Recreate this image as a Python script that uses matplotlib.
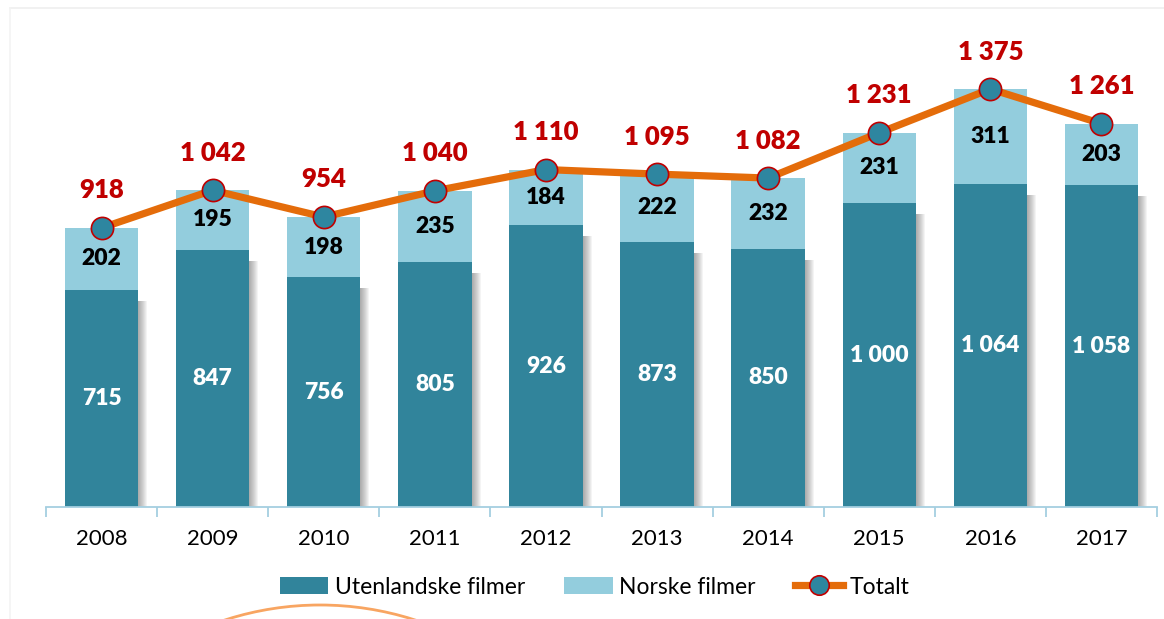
import matplotlib
matplotlib.use("Agg")
import matplotlib.pyplot as plt
from matplotlib.patches import Arc
from matplotlib.lines import Line2D
from matplotlib.patches import Patch
import numpy as np

years = ["2008", "2009", "2010", "2011", "2012", "2013", "2014", "2015", "2016", "2017"]
utenlandske = [715, 847, 756, 805, 926, 873, 850, 1000, 1064, 1058]
norske = [202, 195, 198, 235, 184, 222, 232, 231, 311, 203]
totalt = [918, 1042, 954, 1040, 1110, 1095, 1082, 1231, 1375, 1261]

DARK = "#31849B"
LIGHT = "#93CDDD"
ORANGE = "#E46C0A"
RED = "#C00000"
FONT = "Lato"

def fmt(v):
    return f"{v:,}".replace(",", " ")

W, H = 1164, 619
fig = plt.figure(figsize=(W / 100, H / 100), dpi=100)

bg = fig.add_axes([0, 0, 1, 1], zorder=-5)
bg.set_xlim(0, W)
bg.set_ylim(H, 0)
bg.axis("off")
bg.plot([10, W], [8, 8], color="#EFEFEF", lw=1.2)
bg.plot([10, 10], [8, H], color="#F3F3F3", lw=1.2)
bg.add_patch(Arc((320, 914), 2 * 309, 2 * 309, theta1=235, theta2=305,
                 color="#F79646", lw=2, alpha=0.85))

left, right = 46 / W, 1157 / W
bottom = 112 / H
ymax = 1600
pxu = 0.304
top_px = 507 - ymax * pxu
ax = fig.add_axes([left, bottom, right - left, (507 - top_px) / H])

x = np.arange(len(years))
width = 0.66
ax.set_xlim(-0.5, len(years) - 0.5)
ax.set_ylim(0, ymax)

# soft shadow for dark bars
px = 1 / 111.1
for i in range(1, 10):
    ax.bar(x + i * px, np.array(utenlandske) - 8 / pxu, width, bottom=-3 / pxu,
           color="#444444", alpha=0.06, zorder=1, linewidth=0)

ax.bar(x, utenlandske, width, color=DARK, zorder=2, linewidth=0)
ax.bar(x, norske, width, bottom=utenlandske, color=LIGHT, zorder=2, linewidth=0)

ax.plot(x, totalt, color=ORANGE, lw=5.2, zorder=3, solid_capstyle="round")
ax.plot(x, totalt, linestyle="none", marker="o", markersize=16,
        markerfacecolor="#2E86A0", markeredgecolor=RED, markeredgewidth=1.2, zorder=4)

for xi, u, n, t in zip(x, utenlandske, norske, totalt):
    ax.text(xi, u / 2, fmt(u), ha="center", va="center", color="white",
            fontsize=16.5, fontweight="heavy", family=FONT, zorder=5)
    ax.text(xi, u + n / 2, fmt(n), ha="center", va="center", color="black",
            fontsize=16.5, fontweight="heavy", family=FONT, zorder=5)
    ax.annotate(fmt(t), (xi, t), xytext=(0, 27), textcoords="offset points",
                ha="center", va="center", color=RED, fontsize=18.5,
                fontweight="heavy", family=FONT, zorder=5)

for s in ["top", "right", "left"]:
    ax.spines[s].set_visible(False)
ax.spines["bottom"].set_color("#A5CFE0")
ax.spines["bottom"].set_linewidth(1.3)
ax.set_yticks([])
ax.set_xticks(x)
ax.set_xticklabels(years, family=FONT, fontsize=16)
ax.tick_params(axis="x", length=0, pad=16)
ax.set_xticks(np.arange(-0.5, len(years)), minor=True)
ax.tick_params(axis="x", which="minor", length=7, color="#A5CFE0", width=1.3)

handles = [
    Patch(facecolor=DARK, edgecolor="none"),
    Patch(facecolor=LIGHT, edgecolor="none"),
    Line2D([0], [0], color=ORANGE, lw=5.2, marker="o", markersize=14,
           markerfacecolor="#2E86A0", markeredgecolor=RED, markeredgewidth=1.2),
]
labels = ["Utenlandske filmer", "Norske filmer", "Totalt"]
fig.legend(handles, labels, loc="center", bbox_to_anchor=(595 / W, 1 - 587 / H),
           ncol=3, frameon=False, prop={"family": FONT, "size": 16.5},
           handlelength=2.1, handleheight=0.7, handletextpad=0.3,
           columnspacing=1.7)

fig.savefig("out.png", dpi=100)
